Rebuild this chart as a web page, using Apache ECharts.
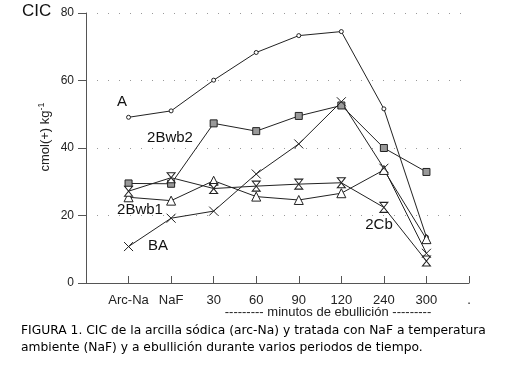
<!DOCTYPE html>
<html>
<head>
<meta charset="utf-8">
<script src="https://cdn.jsdelivr.net/npm/echarts@6/dist/echarts.min.js"></script>
<style>
html,body{margin:0;padding:0;background:#fff;}
#c{width:512px;height:371px;}
</style>
</head>
<body>
<div id="c"></div>
<script>
// ---- data ----
var categories = ['', 'Arc-Na', 'NaF', '30', '60', '90', '120', '240', '300', '.'];
var yTicks = [0, 20, 40, 60, 80];
var seriesA      = [49.1, 51.0, 60.1, 68.3, 73.3, 74.5, 51.6, 13.6];
var series2Bwb2  = [29.5, 29.4, 47.3, 45.0, 49.5, 52.6, 40.0, 32.9];
var series2Bwb1  = [25.4, 24.4, 30.3, 25.6, 24.6, 26.6, 33.5, 13.0];
var series2Cb    = [27.2, 31.2, 28.0, 28.7, 29.3, 29.7, 22.4, 6.5];
var seriesBA     = [10.8, 19.2, 21.3, 32.3, 41.2, 53.7, 34.0, 8.8];

var FONT = '"Liberation Sans", Arial, sans-serif';
var CAPFONT = '"DejaVu Sans", sans-serif';
var LINE = '#222';

function pad(arr){ return [null].concat(arr).concat([null]); }

var hourglass = 'path://M0,0L10,0L0,12L10,12Z';
var cross = 'path://M0,0L10,10M10,0L0,10';

function mk(name, data, symbol, size, fill){
  return {
    name: name, type: 'line', data: pad(data),
    symbol: symbol, symbolSize: size, showSymbol: true,
    lineStyle: {color: LINE, width: 1},
    itemStyle: {color: fill, borderColor: LINE, borderWidth: 1},
    emphasis: {disabled: true}, animation: false, connectNulls: false
  };
}

var chart = echarts.init(document.getElementById('c'), null, {renderer: 'canvas'});
chart.setOption({
  animation: false,
  backgroundColor: '#fff',
  textStyle: {fontFamily: FONT},
  grid: {left: 86, right: 43, top: 13, bottom: 88, containLabel: false},
  xAxis: {
    type: 'category', data: categories, boundaryGap: false,
    axisLine: {lineStyle: {color: '#555', width: 1}},
    axisTick: {inside: true, length: 7, lineStyle: {color: '#555'}},
    axisLabel: {color: '#222', fontSize: 13, fontFamily: FONT, margin: 11, interval: 0},
    splitLine: {show: false}
  },
  yAxis: {
    type: 'value', min: yTicks[0], max: yTicks[yTicks.length-1], interval: 20,
    axisLine: {show: true, lineStyle: {color: '#555', width: 1}},
    axisTick: {show: true, length: 8, lineStyle: {color: '#555'}},
    axisLabel: {color: '#222', fontSize: 12, fontFamily: FONT, margin: 12},
    splitLine: {show: true, lineStyle: {color: '#999', type: [1, 10], width: 1}}
  },
  series: [
    mk('A', seriesA, 'circle', 4, '#fff'),
    mk('2Bwb2', series2Bwb2, 'rect', 7, '#999'),
    mk('2Bwb1', series2Bwb1, 'triangle', 9, '#fff'),
    mk('2Cb', series2Cb, hourglass, [8, 10], '#fff'),
    mk('BA', seriesBA, cross, 9, 'none')
  ],
  graphic: [
    {type: 'text', left: 22, top: 3, style: {text: 'CIC', font: '17px ' + FONT, fill: '#111'}},
    {type: 'text', x: 122, y: 102, style: {text: 'A', font: '15px ' + FONT, fill: '#111', align: 'center', verticalAlign: 'middle'}},
    {type: 'text', x: 170, y: 138, style: {text: '2Bwb2', font: '15px ' + FONT, fill: '#111', align: 'center', verticalAlign: 'middle'}},
    {type: 'text', x: 140, y: 210, style: {text: '2Bwb1', font: '15px ' + FONT, fill: '#111', align: 'center', verticalAlign: 'middle'}},
    {type: 'text', x: 158, y: 246, style: {text: 'BA', font: '15px ' + FONT, fill: '#111', align: 'center', verticalAlign: 'middle'}},
    {type: 'text', x: 379, y: 225, style: {text: '2Cb', font: '15px ' + FONT, fill: '#111', align: 'center', verticalAlign: 'middle'}},
    {type: 'text', x: 45, y: 137, rotation: Math.PI / 2,
      style: {text: '{a|cmol(+) kg}{s|-1}', align: 'center', verticalAlign: 'middle',
        rich: {a: {font: '13px ' + FONT, fill: '#222'}, s: {font: '9px ' + FONT, fill: '#222', verticalAlign: 'top', padding: [0,0,7,0]}}}},
    {type: 'text', x: 328, y: 312, style: {text: '--------- minutos de ebullición ---------', font: '13px ' + FONT, fill: '#222', align: 'center', verticalAlign: 'middle'}},
    {type: 'text', left: 21, top: 325, style: {text: 'FIGURA 1. CIC de la arcilla sódica (arc-Na) y tratada con NaF a temperatura', font: '12.3px ' + CAPFONT, fill: '#000'}},
    {type: 'text', left: 21, top: 342, style: {text: 'ambiente (NaF) y a ebullición durante varios periodos de tiempo.', font: '12.3px ' + CAPFONT, fill: '#000'}}
  ]
});
</script>
</body>
</html>
